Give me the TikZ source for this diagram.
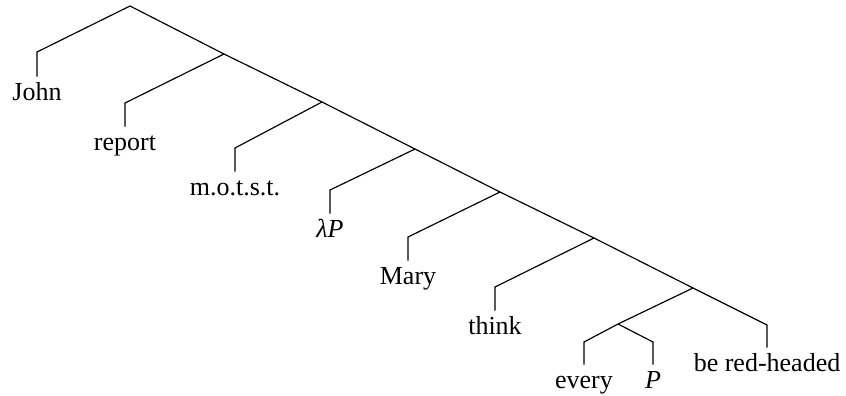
\documentclass[tikz,border=0pt]{standalone}
\usepackage{fontspec}
\setmainfont{Liberation Serif}
\begin{document}
\begin{tikzpicture}[
    x=0.3846pt, y=-0.3846pt,
    leaf/.style={anchor=base, inner sep=1.8pt, text height=7pt, text depth=2pt},
    branch/.style={line width=0.45pt}
  ]
    \useasboundingbox (0,0) rectangle (846,395);
    % spine
    \coordinate (n0) at (130,6);
    \coordinate (n1) at (224,54);
    \coordinate (n2) at (322,102);
    \coordinate (n3) at (415,149);
    \coordinate (n4) at (500,192);
    \coordinate (n5) at (594,238);
    \coordinate (n6) at (693,288);
    \coordinate (n7) at (618,324);

    % leaves
    \node[leaf] (john)  at (37,100)  {John};
    \node[leaf] (rep)   at (125,150) {report};
    \node[leaf] (mots)  at (235,195) {m.o.t.s.t.};
    \node[leaf] (lam)   at (330,237) {\textit{λP}};
    \node[leaf] (mary)  at (408,284) {Mary};
    \node[leaf] (think) at (495,334) {think};
    \node[leaf] (every) at (584,388) {every};
    \node[leaf] (pp)    at (653,388) {\textit{P}};
    \node[leaf] (red)   at (767,371) {be red-headed};

    \coordinate (john-t)  at (37,52);
    \coordinate (rep-t)   at (125,103);
    \coordinate (mots-t)  at (235,148);
    \coordinate (lam-t)   at (330,190);
    \coordinate (mary-t)  at (408,237);
    \coordinate (think-t) at (495,287);
    \coordinate (every-t) at (584,342);
    \coordinate (pp-t)    at (653,342);
    \coordinate (red-t)   at (767,325);

    \draw[branch] (n0) -- (n1) -- (n2) -- (n3) -- (n4) -- (n5) -- (n6) -- (red-t) -- (red);
    \draw[branch] (n0) -- (john-t) -- (john);
    \draw[branch] (n1) -- (rep-t) -- (rep);
    \draw[branch] (n2) -- (mots-t) -- (mots);
    \draw[branch] (n3) -- (lam-t) -- (lam);
    \draw[branch] (n4) -- (mary-t) -- (mary);
    \draw[branch] (n5) -- (think-t) -- (think);
    \draw[branch] (n6) -- (n7);
    \draw[branch] (n7) -- (every-t) -- (every);
    \draw[branch] (n7) -- (pp-t) -- (pp);
  \end{tikzpicture}
\end{document}
